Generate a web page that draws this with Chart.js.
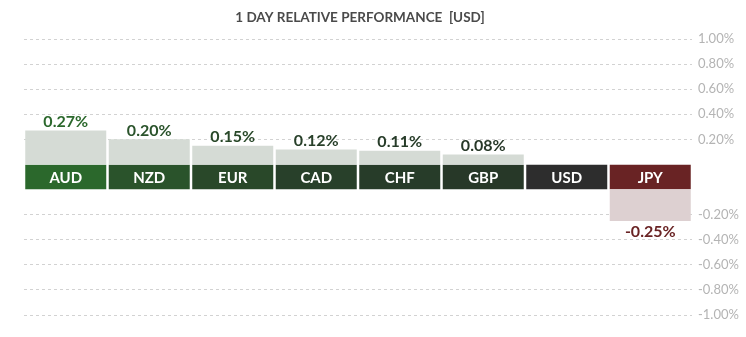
<!DOCTYPE html>
<html>
<head>
<meta charset="utf-8">
<script src="https://cdn.jsdelivr.net/npm/chart.js@4/dist/chart.umd.min.js"></script>
<style>
  html, body { margin: 0; padding: 0; background: #ffffff; }
  #wrap { width: 746px; height: 337px; position: relative; }
</style>
</head>
<body>
<div id="wrap"><canvas id="perf"></canvas></div>
<script>
// Currencies and their one-day change against USD (percent)
const currencies = ['AUD', 'NZD', 'EUR', 'CAD', 'CHF', 'GBP', 'USD', 'JPY'];
const changes = [0.27, 0.20, 0.15, 0.12, 0.11, 0.08, 0, -0.25];
const tagColors = ['#2b682c', '#2a532b', '#294829', '#28402a', '#273c29', '#273828', '#2d2d2d', '#692324'];
const upperTicks = [0.2, 0.4, 0.6, 0.8, 1.0];
const lowerTicks = [-1.0, -0.8, -0.6, -0.4, -0.2];
const chartTitle = '1 DAY RELATIVE PERFORMANCE  [USD]';

const gains = changes.map(v => (v > 0 ? v : null));
const losses = changes.map(v => (v < 0 ? v : null));
const tagBand = currencies.map(() => 1);

const FONT = 'Lato, "Open Sans", sans-serif';
const AXIS_W = 54;

const tickCfg = {
  color: '#b4b4b4',
  font: { family: FONT, size: 13 },
  padding: 6,
  autoSkip: false,
  callback: v => Number(v).toFixed(2) + '%'
};
const gridCfg = { color: '#d2d2d2', drawTicks: false, lineWidth: 1 };
const borderCfg = { display: false, dash: [3, 3] };

// Heading centred over the plot
const heading = {
  id: 'heading',
  afterDraw(chart) {
    const ctx = chart.ctx;
    ctx.save();
    ctx.font = 'bold 13.5px ' + FONT;
    ctx.fillStyle = '#4a4a4a';
    ctx.textAlign = 'center';
    ctx.textBaseline = 'middle';
    ctx.fillText(chartTitle, 360, 18);
    ctx.restore();
  }
};

// Labels: values above/below bars and currency names inside the band
const barTags = {
  id: 'barTags',
  afterDatasetsDraw(chart) {
    const ctx = chart.ctx;
    ctx.save();
    ctx.textAlign = 'center';
    ctx.textBaseline = 'middle';

    ctx.font = 'bold 15px ' + FONT;
    chart.getDatasetMeta(2).data.forEach((bar, i) => {
      const mid = (bar.y + bar.base) / 2;
      ctx.fillStyle = '#ffffff';
      ctx.fillText(currencies[i], bar.x, mid + 1);
    });

    ctx.font = 'bold 16px ' + FONT;
    chart.getDatasetMeta(0).data.forEach((bar, i) => {
      if (gains[i] === null) return;
      ctx.fillStyle = tagColors[i];
      ctx.fillText(gains[i].toFixed(2) + '%', bar.x, bar.y - 9);
    });

    chart.getDatasetMeta(1).data.forEach((bar, i) => {
      if (losses[i] === null) return;
      ctx.fillStyle = tagColors[i];
      ctx.fillText(losses[i].toFixed(2) + '%', bar.x, bar.y + 11);
    });
    ctx.restore();
  }
};

const fixWidth = scale => { scale.width = AXIS_W; };

new Chart(document.getElementById('perf'), {
  type: 'bar',
  data: {
    labels: currencies,
    datasets: [
      {
        label: 'gain', data: gains, yAxisID: 'yUp',
        backgroundColor: '#d5dbd5', grouped: false,
        categoryPercentage: 1, barPercentage: 0.97, borderWidth: 0
      },
      {
        label: 'loss', data: losses, yAxisID: 'yDown',
        backgroundColor: '#ddd0d1', grouped: false,
        categoryPercentage: 1, barPercentage: 0.97, borderWidth: 0
      },
      {
        label: 'tag', data: tagBand, yAxisID: 'yBand',
        backgroundColor: tagColors, grouped: false,
        categoryPercentage: 1, barPercentage: 0.97, borderWidth: 0
      }
    ]
  },
  options: {
    responsive: true,
    maintainAspectRatio: false,
    devicePixelRatio: 1,
    animation: false,
    layout: { padding: { left: 24, right: 0, top: 39, bottom: 22 } },
    plugins: {
      legend: { display: false },
      tooltip: { enabled: false },
      title: { display: false }
    },
    scales: {
      x: { display: false },
      yUp: {
        type: 'linear', position: 'right', stack: 'perf', stackWeight: 125,
        min: 0, max: 1,
        afterBuildTicks: s => { s.ticks = upperTicks.map(v => ({ value: v })); },
        afterFit: fixWidth,
        ticks: tickCfg, grid: gridCfg, border: borderCfg
      },
      yBand: {
        type: 'linear', position: 'right', stack: 'perf', stackWeight: 25,
        min: 0, max: 1,
        afterFit: fixWidth,
        ticks: { display: false }, grid: { display: false }, border: { display: false }
      },
      yDown: {
        type: 'linear', position: 'right', stack: 'perf', stackWeight: 125,
        min: -1, max: 0,
        afterBuildTicks: s => { s.ticks = lowerTicks.map(v => ({ value: v })); },
        afterFit: fixWidth,
        ticks: tickCfg, grid: gridCfg, border: borderCfg
      }
    }
  },
  plugins: [barTags, heading]
});
</script>
</body>
</html>
